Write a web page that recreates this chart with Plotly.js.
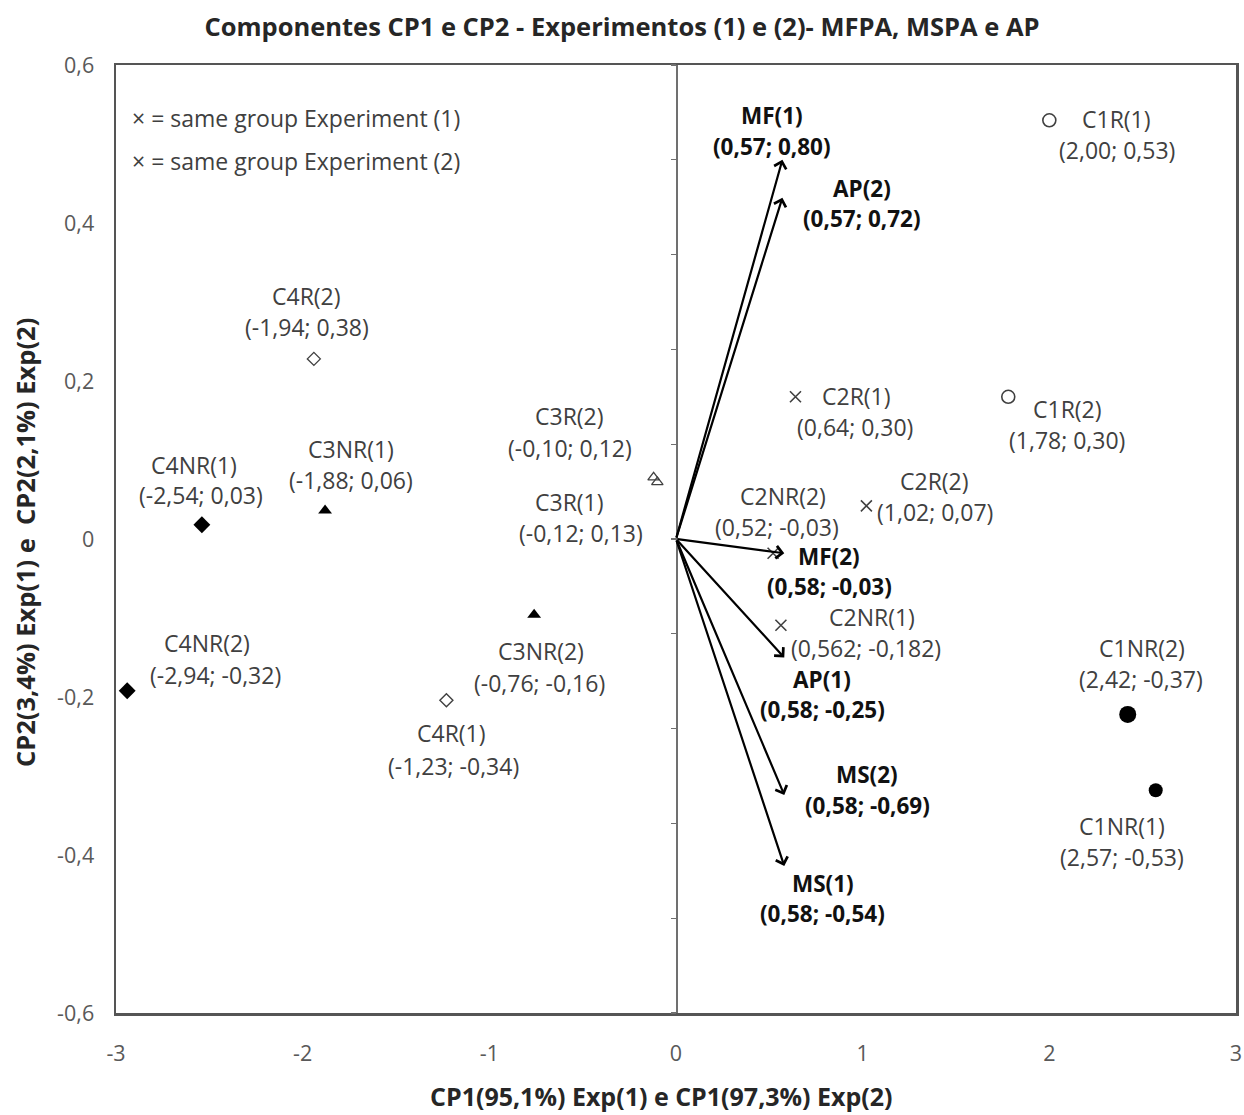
<!DOCTYPE html>
<html>
<head>
<meta charset="utf-8">
<script src="https://cdn.plot.ly/plotly-3.0.1.min.js"></script>
<style>
  html, body { margin: 0; padding: 0; background: #ffffff; }
  #chart { width: 1244px; height: 1115px; }
</style>
</head>
<body>
<div id="chart"></div>
<script>
// Treatment scores on the first two principal components
const groupNames = ['C1R(1)', 'C1R(2)', 'C1NR(1)', 'C1NR(2)',
                    'C2R(1)', 'C2R(2)', 'C2NR(1)', 'C2NR(2)',
                    'C3R(1)', 'C3R(2)', 'C3NR(1)', 'C3NR(2)',
                    'C4R(1)', 'C4R(2)', 'C4NR(1)', 'C4NR(2)'];
const groupCP1 = [2.00, 1.78, 2.57, 2.42,
                  0.64, 1.02, 0.562, 0.52,
                  -0.12, -0.10, -1.88, -0.76,
                  -1.23, -1.94, -2.54, -2.94];
const groupCP2 = [0.53, 0.30, -0.53, -0.37,
                  0.30, 0.07, -0.182, -0.03,
                  0.13, 0.12, 0.06, -0.16,
                  -0.34, 0.38, 0.03, -0.32];

// Variable loadings (arrows from the origin)
const varNames = ['MF(1)', 'AP(2)', 'MF(2)', 'AP(1)', 'MS(2)', 'MS(1)'];
const varCP1 = [0.57, 0.57, 0.58, 0.58, 0.58, 0.58];
const varCP2 = [0.80, 0.72, -0.03, -0.25, -0.69, -0.54];

// Axis ticks
const xTickVals = [-3, -2, -1, 0, 1, 2, 3];
const xTickText = ['-3', '-2', '-1', '0', '1', '2', '3'];
const yTickVals = [-0.6, -0.4, -0.2, 0, 0.2, 0.4, 0.6];
const yTickText = ['-0,6', '-0,4', '-0,2', '0', '0,2', '0,4', '0,6'];
const y2TickVals = [-1, -0.8, -0.6, -0.4, -0.2, 0, 0.2, 0.4, 0.6, 0.8, 1];

const FONT = '"Open Sans", Lato, "DejaVu Sans", sans-serif';
const TXT = '#404040';
const LABEL_SIZE = 23;

// Comma-decimal formatting, at least two decimals
function fmt(v) {
  const s = String(v);
  const d = Math.max(2, (s.split('.')[1] || '').length);
  return v.toFixed(d).replace('.', ',');
}
function coordText(x, y) { return '(' + fmt(x) + '; ' + fmt(y) + ')'; }

// Plot area geometry, used to place the text labels
const PL = 116, PR = 1236, PT = 65, PB = 1013;
function px2x(px) { return -3 + (px - PL) / (PR - PL) * 6; }
function py2y(py) { return 0.6 - (py - PT) / (PB - PT) * 1.2; }

// Marker style for each treatment family
function styleFor(name) {
  if (name.startsWith('C1NR')) return { symbol: 'circle', size: name === 'C1NR(2)' ? 17 : 14, color: '#000000' };
  if (name.startsWith('C1R'))  return { symbol: 'circle-open', size: 13, color: '#404040', lw: 1.6 };
  if (name.startsWith('C2'))   return { symbol: 'x-thin-open', size: 11, color: '#404040', lw: 1.6 };
  if (name.startsWith('C3NR')) return { symbol: 'triangle-up', size: 12, color: '#000000' };
  if (name.startsWith('C3R'))  return { symbol: 'triangle-up-open', size: 10, color: '#404040', lw: 1.3 };
  if (name.startsWith('C4NR')) return { symbol: 'diamond', size: 13, color: '#000000' };
  return { symbol: 'diamond-open', size: 10, color: '#404040', lw: 1.4 };
}

// C1R(1) is read on the left axis, the rest on the axis crossing at zero
const onPrimary = { 'C1R(1)': true };

const traces = groupNames.map((name, i) => {
  const st = styleFor(name);
  return {
    type: 'scatter', mode: 'markers', name: name,
    x: [groupCP1[i]], y: [groupCP2[i]],
    yaxis: onPrimary[name] ? 'y' : 'y2',
    marker: { symbol: st.symbol, size: st.size, color: st.color,
              line: { color: st.color, width: st.lw || 0 } },
    showlegend: false, hoverinfo: 'skip'
  };
});

// Text placement: pixel centers of first and second line
const labelPos = {
  'C1R(1)': [1116, 119, 1117, 150], 'C1R(2)': [1067, 409, 1067, 440],
  'C1NR(1)': [1122, 826, 1122, 857], 'C1NR(2)': [1142, 648, 1141, 679],
  'C2R(1)': [856, 396, 855, 427], 'C2R(2)': [934, 481, 935, 512],
  'C2NR(1)': [872, 617, 866, 648], 'C2NR(2)': [783, 496, 777, 527],
  'C3R(1)': [569, 502, 581, 533], 'C3R(2)': [569, 416, 570, 448],
  'C3NR(1)': [351, 449, 351, 480], 'C3NR(2)': [541, 651, 539, 683],
  'C4R(1)': [451, 733, 453, 766], 'C4R(2)': [306, 296, 307, 327],
  'C4NR(1)': [194, 465, 201, 495], 'C4NR(2)': [207, 643, 215, 675],
  'MF(1)': [772, 115, 772, 146], 'AP(2)': [862, 188, 862, 218],
  'MF(2)': [829, 556, 829, 586], 'AP(1)': [822, 679, 822, 709],
  'MS(2)': [867, 774, 867, 805], 'MS(1)': [823, 883, 822, 913]
};

const annotations = [];
function addLabel(name, line1, line2, bold) {
  const p = labelPos[name];
  const f = { family: FONT, size: bold ? LABEL_SIZE - 0.5 : LABEL_SIZE, color: bold ? '#111111' : TXT };
  annotations.push({ x: px2x(p[0]), y: py2y(p[1]), xref: 'x', yref: 'y', showarrow: false, borderpad: 0,
    text: bold ? '<b>' + line1 + '</b>' : line1, font: f, xanchor: 'center', yanchor: 'middle' });
  annotations.push({ x: px2x(p[2]), y: py2y(p[3]), xref: 'x', yref: 'y', showarrow: false, borderpad: 0,
    text: bold ? '<b>' + line2 + '</b>' : line2, font: f, xanchor: 'center', yanchor: 'middle' });
}

groupNames.forEach((n, i) => addLabel(n, n, coordText(groupCP1[i], groupCP2[i]), false));

// Loading arrows from the origin
varNames.forEach((n, i) => {
  annotations.push({
    x: varCP1[i], y: varCP2[i], xref: 'x', yref: 'y2',
    ax: 0, ay: 0, axref: 'x', ayref: 'y2',
    text: '', showarrow: true, arrowhead: 4, arrowsize: 1.1, arrowwidth: 2.2,
    arrowcolor: '#000000', standoff: 0
  });
  addLabel(n, n, coordText(varCP1[i], varCP2[i]), true);
});

// Notes in the upper-left corner
annotations.push({ x: (130 - PL) / (PR - PL), y: (PB - 118) / (PB - PT), xref: 'paper', yref: 'paper',
  xanchor: 'left', yanchor: 'middle', showarrow: false,
  text: '× = same group Experiment (1)', font: { family: FONT, size: 23, color: TXT } });
annotations.push({ x: (130 - PL) / (PR - PL), y: (PB - 161) / (PB - PT), xref: 'paper', yref: 'paper',
  xanchor: 'left', yanchor: 'middle', showarrow: false,
  text: '× = same group Experiment (2)', font: { family: FONT, size: 23, color: TXT } });

// Axis titles
annotations.push({ x: (661 - PL) / (PR - PL), y: (PB - 1096) / (PB - PT), xref: 'paper', yref: 'paper',
  xanchor: 'center', yanchor: 'middle', showarrow: false,
  text: '<b>CP1(95,1%) Exp(1) e CP1(97,3%) Exp(2)</b>', font: { family: FONT, size: 25, color: '#262626' } });
annotations.push({ x: (25 - PL) / (PR - PL), y: (PB - 543) / (PB - PT), xref: 'paper', yref: 'paper',
  xanchor: 'center', yanchor: 'middle', showarrow: false, textangle: -90,
  text: '<b>CP2(3,4%) Exp(1) e  CP2(2,1%) Exp(2)</b>', font: { family: FONT, size: 25.5, color: '#262626' } });

const layout = {
  width: 1244, height: 1115,
  margin: { l: PL, r: 1244 - PR, t: PT, b: 1115 - PB, pad: 0 },
  paper_bgcolor: '#ffffff', plot_bgcolor: '#ffffff',
  font: { family: FONT, color: TXT },
  title: {
    text: '<b>Componentes CP1 e CP2 - Experimentos (1) e (2)- MFPA, MSPA e AP</b>',
    font: { family: FONT, size: 25.5, color: '#262626' },
    x: 0.5, xanchor: 'center', y: 1 - 27 / 1115, yanchor: 'middle'
  },
  xaxis: {
    range: [-3, 3], tickvals: xTickVals, ticktext: xTickText,
    showgrid: false, zeroline: false, showline: true, mirror: true,
    linecolor: '#555555', linewidth: 2.5, ticks: '',
    tickfont: { family: FONT, size: 21.5, color: '#595959' }, ticklabelstandoff: 20
  },
  yaxis: {
    range: [-0.6, 0.6], tickvals: yTickVals, ticktext: yTickText,
    showgrid: false, zeroline: false, showline: true, mirror: true,
    linecolor: '#555555', linewidth: 2.5, ticks: '',
    tickfont: { family: FONT, size: 21.5, color: '#595959' }, ticklabelstandoff: 15
  },
  yaxis2: {
    overlaying: 'y', anchor: 'free', position: 0.5, side: 'left',
    range: [-1, 1], tickvals: y2TickVals, showticklabels: false,
    ticks: 'outside', ticklen: 5, tickwidth: 1.2, tickcolor: '#707070',
    showgrid: false, zeroline: false, showline: true, linecolor: '#707070', linewidth: 1.6
  },
  annotations: annotations,
  showlegend: false
};

Plotly.newPlot('chart', traces, layout, { staticPlot: true, displayModeBar: false });
</script>
</body>
</html>
